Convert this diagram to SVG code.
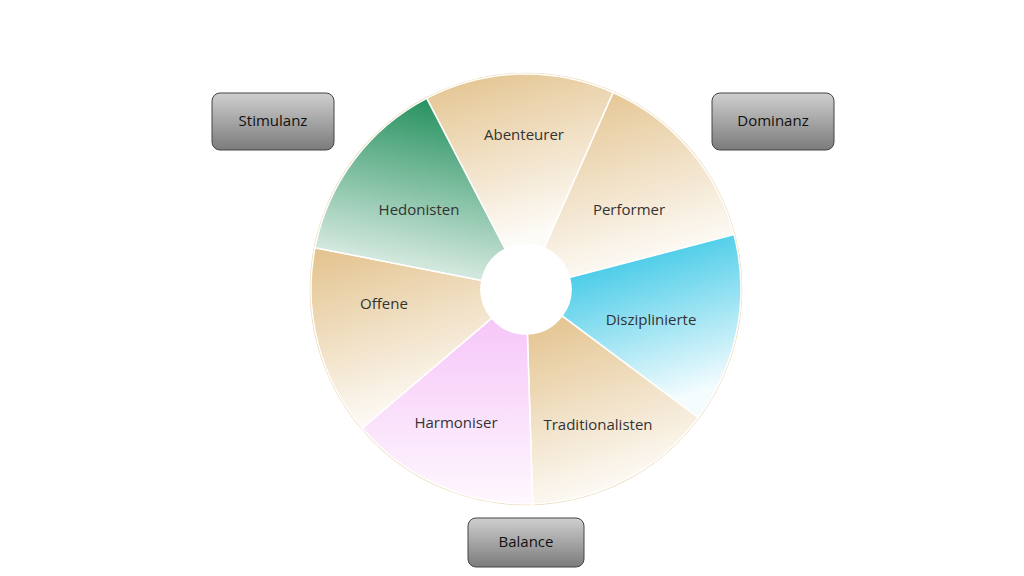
<svg xmlns="http://www.w3.org/2000/svg" width="1024" height="576" viewBox="0 0 1024 576">
<defs>
<linearGradient id="tan" x1="0" y1="0" x2="0.3" y2="1"><stop offset="0" stop-color="#E3C28C"/><stop offset="1" stop-color="#FDFBF7"/></linearGradient>
<linearGradient id="green" x1="0.6" y1="0" x2="0.4" y2="1"><stop offset="0" stop-color="#25915F"/><stop offset="1" stop-color="#E6F2EC"/></linearGradient>
<linearGradient id="cyan" x1="0" y1="0" x2="0.3" y2="1"><stop offset="0" stop-color="#1CBFE2"/><stop offset="1" stop-color="#F4FCFE"/></linearGradient>
<linearGradient id="pink" x1="0" y1="0" x2="0" y2="1"><stop offset="0" stop-color="#F6C6F8"/><stop offset="1" stop-color="#FEF8FE"/></linearGradient>
<linearGradient id="gray" x1="0" y1="0" x2="0" y2="1"><stop offset="0" stop-color="#CFCFCF"/><stop offset="1" stop-color="#7B7B7B"/></linearGradient>
</defs>
<style>
.seg{stroke:#fff;stroke-width:1.5}
.t{font-family:"Open Sans","Liberation Sans",sans-serif;font-size:15px;fill:#333;text-anchor:middle;dominant-baseline:middle}
.box{fill:url(#gray);stroke:#444;stroke-width:1}
.bt{font-family:"Open Sans","Liberation Sans",sans-serif;font-size:15px;fill:#111;text-anchor:middle;dominant-baseline:middle}
</style>
<rect width="1024" height="576" fill="#fff"/>
<circle cx="526" cy="289" r="215.5" fill="none" stroke="#E8D2AA" stroke-width="1.5"/>
<g id="abenteurer"><path class="seg" fill="url(#tan)" d="M505.2,249.1 L426.7,98.3 A215,215 0 0 1 613.2,92.5 L544.3,247.9 A45,45 0 0 0 505.2,249.1 Z"/><text class="t" x="524" y="136">Abenteurer</text></g>
<g id="performer"><path class="seg" fill="url(#tan)" d="M544.3,247.9 L613.2,92.5 A215,215 0 0 1 734.0,234.6 L569.5,277.6 A45,45 0 0 0 544.3,247.9 Z"/><text class="t" x="629" y="211">Performer</text></g>
<g id="disziplinierte"><path class="seg" fill="url(#cyan)" d="M569.5,277.6 L734.0,234.6 A215,215 0 0 1 698.2,417.7 L562.0,315.9 A45,45 0 0 0 569.5,277.6 Z"/><text class="t" x="651" y="321">Disziplinierte</text></g>
<g id="traditionalisten"><path class="seg" fill="url(#tan)" d="M562.0,315.9 L698.2,417.7 A215,215 0 0 1 532.7,503.9 L527.4,334.0 A45,45 0 0 0 562.0,315.9 Z"/><text class="t" x="598" y="426">Traditionalisten</text></g>
<g id="harmoniser"><path class="seg" fill="url(#pink)" d="M527.4,334.0 L532.7,503.9 A215,215 0 0 1 362.2,428.2 L491.7,318.1 A45,45 0 0 0 527.4,334.0 Z"/><text class="t" x="456" y="424">Harmoniser</text></g>
<g id="offene"><path class="seg" fill="url(#tan)" d="M491.7,318.1 L362.2,428.2 A215,215 0 0 1 315.0,247.7 L481.8,280.4 A45,45 0 0 0 491.7,318.1 Z"/><text class="t" x="384" y="305">Offene</text></g>
<g id="hedonisten"><path class="seg" fill="url(#green)" d="M481.8,280.4 L315.0,247.7 A215,215 0 0 1 426.7,98.3 L505.2,249.1 A45,45 0 0 0 481.8,280.4 Z"/><text class="t" x="419" y="211">Hedonisten</text></g>
<g id="stimulanz"><rect class="box" x="212" y="93" width="122" height="57" rx="8"/><text class="bt" x="273" y="122">Stimulanz</text></g>
<g id="dominanz"><rect class="box" x="712" y="93" width="122" height="57" rx="8"/><text class="bt" x="773" y="122">Dominanz</text></g>
<g id="balance"><rect class="box" x="468" y="518" width="116" height="49" rx="8"/><text class="bt" x="526" y="543">Balance</text></g>
<g id="connectors"/>
</svg>
